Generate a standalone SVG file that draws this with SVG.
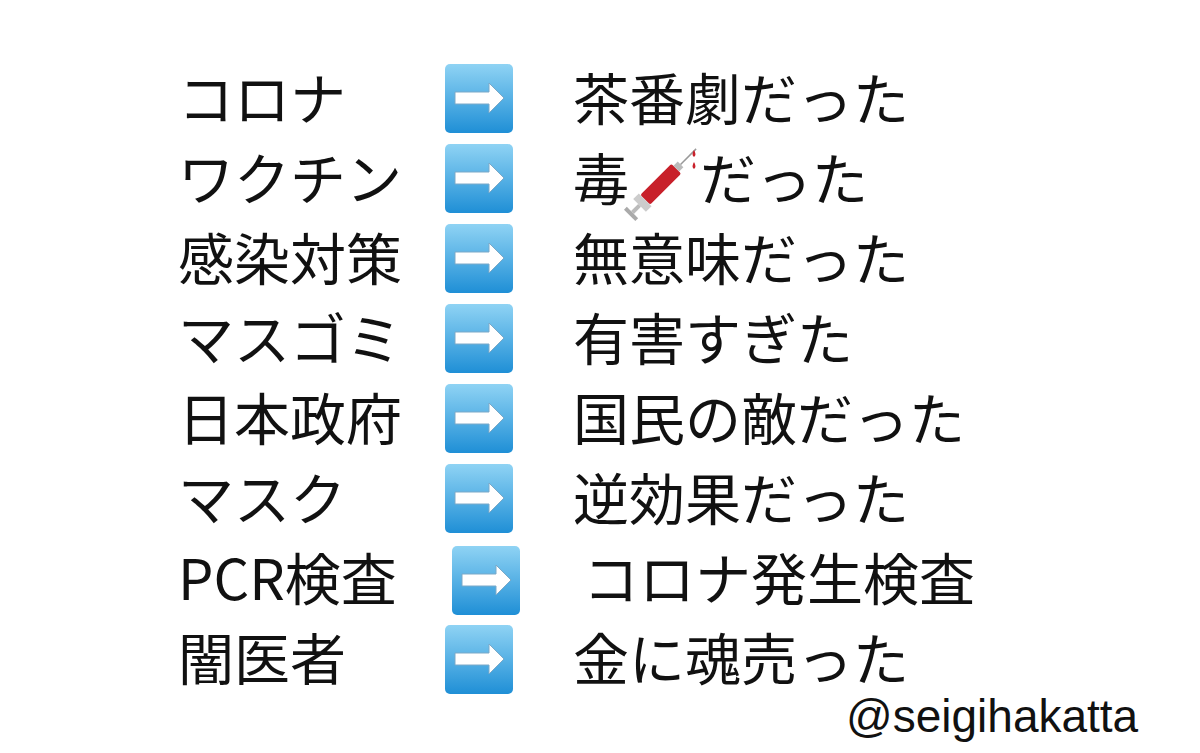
<svg xmlns="http://www.w3.org/2000/svg" width="1200" height="753" viewBox="0 0 1200 753">
<style>
text{font-family:"Noto Sans CJK JP","Noto Sans",sans-serif;font-size:56px;fill:#111}
.h{font-family:"Liberation Sans",sans-serif;font-size:46px}
</style>
<defs>
<linearGradient id="bg" x1="0" y1="0" x2="0" y2="1"><stop offset="0" stop-color="#8fd3f4"/><stop offset="1" stop-color="#1f8fd6"/></linearGradient>
<g id="arr"><rect x="0" y="0" width="68" height="69" rx="5" fill="url(#bg)"/><path d="M10,23 H44 V14 L59,29 L44,44 V35 H10 Z" fill="#fff" stroke="#7aa9c8" stroke-width="1" transform="translate(0,5)"/></g>
</defs>
<rect width="1200" height="753" fill="#fff"/>
<g id="left">
<text x="178" y="120">コロナ</text>
<text x="178" y="200">ワクチン</text>
<text x="178" y="280">感染対策</text>
<text x="178" y="360">マスゴミ</text>
<text x="178" y="440">日本政府</text>
<text x="178" y="520">マスク</text>
<text x="178" y="600">PCR検査</text>
<text x="178" y="680">闇医者</text>
</g>
<g id="connectors">
<use href="#arr" x="445" y="64"/>
<use href="#arr" x="445" y="144"/>
<use href="#arr" x="445" y="224"/>
<use href="#arr" x="445" y="304"/>
<use href="#arr" x="445" y="384"/>
<use href="#arr" x="445" y="464"/>
<use href="#arr" x="452" y="546"/>
<use href="#arr" x="445" y="625"/>
</g>
<g id="right">
<text x="573" y="120">茶番劇だった</text>
<text x="573" y="200">毒</text>
<g id="syringe" transform="translate(665,180) rotate(-45)">
<rect x="-28" y="-7" width="44" height="14" rx="2" fill="#c8202a"/>
<rect x="-36" y="-9" width="8" height="18" fill="#ccc"/>
<rect x="-46" y="-2" width="10" height="4" fill="#bbb"/>
<rect x="-50" y="-8" width="4" height="16" fill="#aaa"/>
<rect x="16" y="-4" width="6" height="8" fill="#bbb"/>
<line x1="22" y1="0" x2="44" y2="0" stroke="#999" stroke-width="1.5"/>
</g>
<path d="M694,150 q-3,5 0,7 q3,-2 0,-7Z M694,162 q-3,5 0,7 q3,-2 0,-7Z" fill="#c8202a"/>
<text x="700" y="200">だった</text>
<text x="573" y="280">無意味だった</text>
<text x="573" y="360">有害すぎた</text>
<text x="573" y="440">国民の敵だった</text>
<text x="573" y="520">逆効果だった</text>
<text x="583" y="600">コロナ発生検査</text>
<text x="573" y="680">金に魂売った</text>
</g>
<text class="h" x="846" y="732">@seigihakatta</text>
</svg>
